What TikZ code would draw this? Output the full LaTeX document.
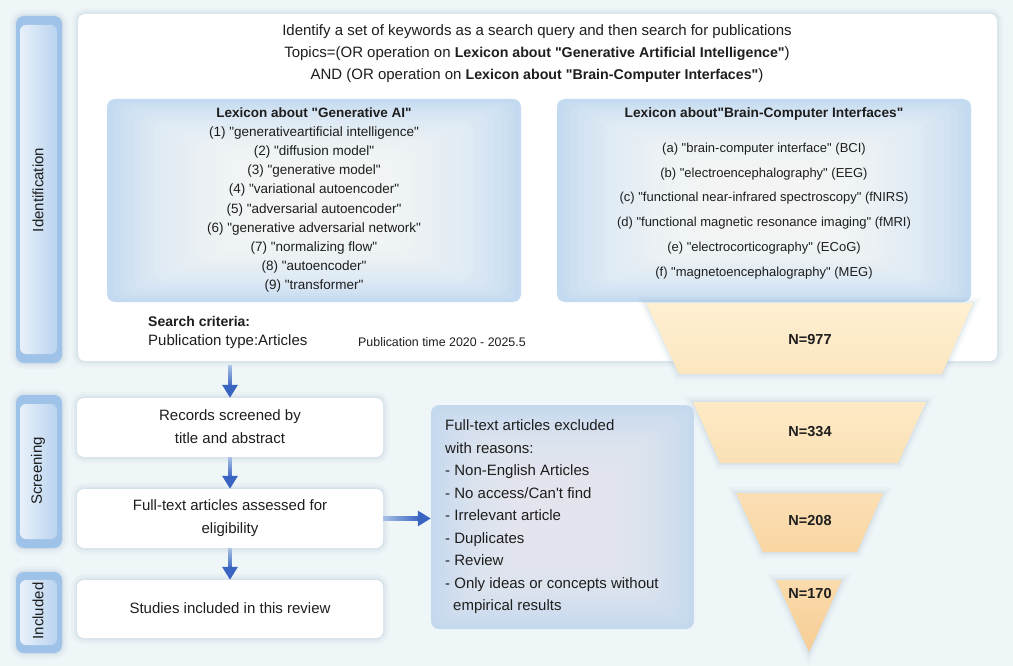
\documentclass[tikz,border=0pt]{standalone}
\usepackage{fontspec}
\setmainfont{Liberation Sans}[Ligatures=TeXOff]
\usetikzlibrary{arrows.meta,calc}
\definecolor{bgc}{HTML}{EFF6F8}
\definecolor{txt}{HTML}{1E1E1E}
\definecolor{lexblue}{HTML}{C4DAF0}
\definecolor{tabdark}{HTML}{9EC2E8}
\definecolor{tablight}{HTML}{E8F1FA}
\definecolor{tabmid}{HTML}{BAD3EF}
\definecolor{arrowc}{HTML}{3A64C2}
\definecolor{arrlight}{HTML}{A9C1E6}
\definecolor{shc}{HTML}{7FA6BC}
\definecolor{exgray}{HTML}{EFEFF1}
\definecolor{exblue}{HTML}{C4D9EE}
\definecolor{fa1}{HTML}{FEF0D2}
\definecolor{fa2}{HTML}{FCE6C0}
\definecolor{fb1}{HTML}{FDEAC6}
\definecolor{fb2}{HTML}{FBE1B5}
\definecolor{fc1}{HTML}{FBDFB4}
\definecolor{fc2}{HTML}{F9D6A3}
\definecolor{fd1}{HTML}{FADBAC}
\definecolor{fd2}{HTML}{F7CD95}
\tikzset{
  softshadow/.style={preaction={draw=shc, draw opacity=0.05, line width=12pt},
                     preaction={draw=shc, draw opacity=0.07, line width=7pt},
                     preaction={draw=shc, draw opacity=0.10, line width=3pt}},
  whitebox/.style={draw=none, fill=white, rounded corners=7pt, softshadow, inner sep=0pt},
  lexbox/.style={draw=none, fill=lexblue, rounded corners=8pt, inner sep=0pt},
  exbox/.style={draw=none, fill=exblue, rounded corners=8pt, inner sep=0pt},
  tabout/.style={draw=none, fill=tabdark, rounded corners=8pt, softshadow, minimum width=46pt, inner sep=0pt},
  tabin/.style={draw=none, left color=tablight, right color=tabmid, rounded corners=6pt, minimum width=37pt, inner sep=0pt},
  tablabel/.style={rotate=90, font=\fontsize{15}{18}\selectfont, text=txt, inner sep=0pt},
  flowtext/.style={align=center, font=\fontsize{15}{23}\selectfont, text=txt, inner sep=0pt},
  funnel/.style={draw=none, softshadow},
  nlabel/.style={font=\fontsize{14.5}{17}\selectfont\bfseries, text=txt, inner sep=0pt},
  arrhead/.style={draw=arrowc, line width=3pt, -{Triangle[length=13pt, width=15pt]}},
  vshaft/.style={top color=arrlight, bottom color=arrowc, draw=none},
  hshaft/.style={left color=arrlight, right color=arrowc, draw=none},
}
% node, inner colour, steps, x step, y step
\newcommand{\vignette}[5]{%
  \foreach \i in {1,...,#3}
    \fill[#2, fill opacity=0.09, rounded corners=10pt]
      ($(#1.north west)+(\i*#4,\i*#5)$) rectangle ($(#1.south east)-(\i*#4,\i*#5)$);}
\begin{document}
\begin{tikzpicture}[x=1pt,y=-1pt]
\useasboundingbox (0,0) rectangle (1013,666);
\fill[bgc] (0,0) rectangle (1013,666);

% side tabs
\node[tabout, minimum height=347pt] (idtab) at (39,189.5) {};
\node[tabin, minimum height=329pt] (idtabin) at (38.5,189.5) {};
\node[tablabel] (idlab) at (38,190) {Identification};
\node[tabout, minimum height=153pt] (sctab) at (39,471.5) {};
\node[tabin, minimum height=135pt] (sctabin) at (38.5,471.5) {};
\node[tablabel] (sclab) at (38,471) {Screening};
\node[tabout, minimum height=81pt] (intab) at (39,612.5) {};
\node[tabin, minimum height=65pt] (intabin) at (38.5,612.5) {};
\node[tablabel] (inlab) at (38,611) {Included};

% main identification box
\node[whitebox, minimum width=919pt, minimum height=347pt] (main) at (537.5,187.5) {};
\node[align=center, font=\fontsize{15}{22}\selectfont, text=txt, inner sep=0pt] (query) at (537,54)
 {Identify a set of keywords as a search query and then search for publications\\
  Topics=(OR operation on {\fontsize{14.2}{22}\selectfont\bfseries Lexicon about "Generative Artificial Intelligence"})\\
  AND (OR operation on {\fontsize{14.2}{22}\selectfont\bfseries Lexicon about "Brain-Computer Interfaces"})};

\node[lexbox, minimum width=414pt, minimum height=203pt] (lexA) at (314,200.5) {};
\vignette{lexA}{white}{26}{6.8}{3.1}
\node[align=center, font=\fontsize{13.5}{19.2}\selectfont, text=txt, inner sep=0pt] (lexAtext) at (314,200)
 {\textbf{Lexicon about "Generative AI"}\\
  (1) "generativeartificial intelligence"\\
  (2) "diffusion model"\\
  (3) "generative model"\\
  (4) "variational autoencoder"\\
  (5) "adversarial autoencoder"\\
  (6) "generative adversarial network"\\
  (7) "normalizing flow"\\
  (8) "autoencoder"\\
  (9) "transformer"};

\node[lexbox, minimum width=414pt, minimum height=203pt] (lexB) at (764,200.5) {};
\vignette{lexB}{white}{26}{6.8}{3.1}
\node[font=\fontsize{13.7}{16}\selectfont\bfseries, text=txt, inner sep=0pt] (lexBtitle) at (764,114)
 {Lexicon about"Brain-Computer Interfaces"};
\node[align=center, font=\fontsize{13}{24.8}\selectfont, text=txt, inner sep=0pt] (lexBtext) at (764,211)
 {(a) "brain-computer interface" (BCI)\\
  (b) "electroencephalography" (EEG)\\
  (c) "functional near-infrared spectroscopy" (fNIRS)\\
  (d) "functional magnetic resonance imaging" (fMRI)\\
  (e) "electrocorticography" (ECoG)\\
  (f) "magnetoencephalography" (MEG)};

\node[anchor=west, font=\fontsize{14}{16}\selectfont\bfseries, text=txt, inner sep=0pt] (crit) at (148,321) {Search criteria:};
\node[anchor=west, font=\fontsize{15}{17}\selectfont, text=txt, inner sep=0pt] (ptype) at (148,342) {Publication type:Articles};
\node[anchor=west, font=\fontsize{12.4}{15}\selectfont, text=txt, inner sep=0pt] (ptime) at (358,342) {Publication time 2020 - 2025.5};

% funnel
\path[funnel, top color=fa1, bottom color=fa2] (646,303) -- (973,303) -- (942,374) -- (679,374) -- cycle;
\node[nlabel] (n1) at (810,340) {N=977};
\path[funnel, top color=fb1, bottom color=fb2] (693,402) -- (926,402) -- (898,463) -- (720,463) -- cycle;
\node[nlabel] (n2) at (810,432) {N=334};
\path[funnel, top color=fc1, bottom color=fc2] (736,493) -- (883,493) -- (857,552) -- (763,552) -- cycle;
\node[nlabel] (n3) at (810,521) {N=208};
\path[funnel, top color=fd1, bottom color=fd2] (776,580) -- (842,580) -- (809,652) -- cycle;
\node[nlabel] (n4) at (810,594) {N=170};

% flow boxes
\node[whitebox, minimum width=306pt, minimum height=59pt] (recs) at (230,427.5) {};
\node[flowtext] (recst) at (230,426.5) {Records screened by\\title and abstract};
\node[whitebox, minimum width=306pt, minimum height=59pt] (full) at (230,518.5) {};
\node[flowtext] (fullt) at (230,518) {Full-text articles assessed for\\eligibility};
\node[whitebox, minimum width=306pt, minimum height=58pt] (stud) at (230,609) {};
\node[flowtext] (studt) at (230,608) {Studies included in this review};

% excluded box
\node[exbox, minimum width=263pt, minimum height=224pt] (excl) at (562.5,517) {};
\vignette{excl}{exgray}{22}{4.6}{3.8}
\node[anchor=west, align=left, font=\fontsize{15}{22.5}\selectfont, text=txt, inner sep=0pt] (exclt) at (445,517)
 {Full-text articles excluded\\
  with reasons:\\
  - Non-English Articles\\
  - No access/Can't find\\
  - Irrelevant article\\
  - Duplicates\\
  - Review\\
  - Only ideas or concepts without\\
  \hspace*{8pt}empirical results};

% arrows: graded shafts from node to node, dark heads
\path[vshaft] ($(recs.north |- main.south)+(-1.6,4)$) rectangle ($(recs.north)+(1.6,-11)$);
\draw[arrhead] ($(recs.north)+(0,-12)$) -- (recs.north);
\path[vshaft] ($(recs.south)+(-1.6,0)$) rectangle ($(full.north)+(1.6,-11)$);
\draw[arrhead] ($(full.north)+(0,-12)$) -- (full.north);
\path[vshaft] ($(full.south)+(-1.6,0)$) rectangle ($(stud.north)+(1.6,-11)$);
\draw[arrhead] ($(stud.north)+(0,-12)$) -- (stud.north);
\path[hshaft] ($(full.east)+(0,-1.6)$) rectangle ($(full.east -| excl.west)+(-11,1.6)$);
\draw[arrhead] ($(full.east -| excl.west)+(-12,0)$) -- (full.east -| excl.west);
\end{tikzpicture}
\end{document}
